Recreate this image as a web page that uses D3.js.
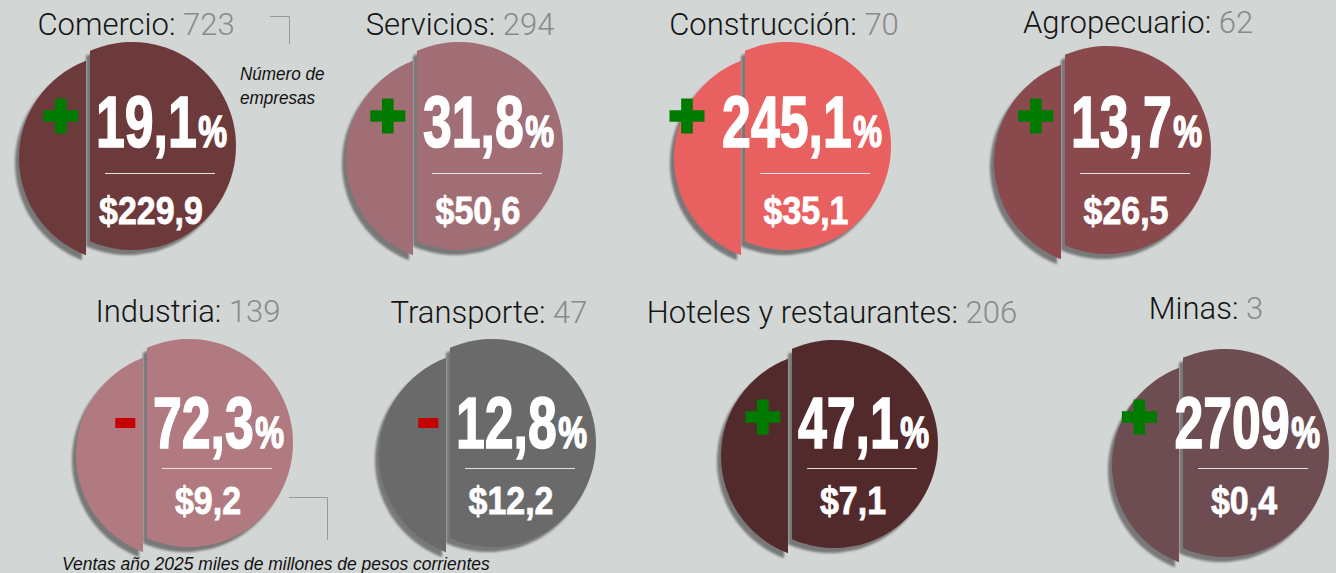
<!DOCTYPE html>
<html>
<head>
<meta charset="utf-8">
<script src="https://cdnjs.cloudflare.com/ajax/libs/d3/7.8.5/d3.min.js"></script>
<style>
  html, body { margin: 0; padding: 0; background: #d2d6d5; }
  svg { display: block; }
</style>
</head>
<body>
<svg width="1336" height="573"></svg>
<script>
// datos
var sectores = ["Comercio", "Servicios", "Construcción", "Agropecuario",
                "Industria", "Transporte", "Hoteles y restaurantes", "Minas"];
var empresas = [723, 294, 70, 62, 139, 47, 206, 3];
var variacion = [19.1, 31.8, 245.1, 13.7, -72.3, -12.8, 47.1, 2709];
var ventas = [229.9, 50.6, 35.1, 26.5, 9.2, 12.2, 7.1, 0.4];

var colores = ["#6d3a3c", "#a06e74", "#e96060", "#8a4a4d",
               "#b07a80", "#6a6a6a", "#522a2c", "#6e4d52"];

// ubicacion de cada grafico (centro de la parte derecha y titulo)
var layout = [
    {cx: 132,  cy: 146, tx: 136,  ty: 35,  row: 0},
    {cx: 459,  cy: 146, tx: 460,  ty: 35,  row: 0},
    {cx: 787,  cy: 146, tx: 784,  ty: 35,  row: 0},
    {cx: 1107, cy: 150, tx: 1138, ty: 33,  row: 0},
    {cx: 189,  cy: 443, tx: 188,  ty: 322, row: 1},
    {cx: 492,  cy: 443, tx: 489,  ty: 323, row: 1},
    {cx: 834,  cy: 444, tx: 832,  ty: 323, row: 1},
    {cx: 1225, cy: 453, tx: 1206, ty: 319, row: 1}
];
var rowText = [
    {pct: 147, line: 173, usd: 224},
    {pct: 448, line: 468, usd: 514}
];

var data = sectores.map(function(s, i) {
    return {sector: s, n: empresas[i], v: variacion[i], usd: ventas[i],
            color: colores[i], pos: layout[i]};
});

var es = d3.formatLocale({decimal: ",", thousands: ".", grouping: [3], currency: ["$", ""]});
var fmtPct = es.format(".1~f"),
    fmtUsd = es.format("$.1f");

var R = 104;
var pctScale = 0.72, usdScale = 0.87;
var svg = d3.select("svg");

var defs = svg.append("defs");
defs.append("filter").attr("id", "blur")
    .attr("x", "-10%").attr("y", "-10%").attr("width", "120%").attr("height", "120%")
  .append("feGaussianBlur").attr("stdDeviation", 1.2);

// segmento de circulo cortado por una recta vertical en xc
function segment(x0, y0, r, xc, side) {
    var dx = xc - x0,
        h = Math.sqrt(r * r - dx * dx),
        top = Math.atan2(-h, dx),
        bot = Math.atan2(h, dx),
        p = d3.path();
    if (side === "right") {
        p.moveTo(xc, y0 - h);
        p.arc(x0, y0, r, top, bot, false);
    } else {
        p.moveTo(xc, y0 + h);
        p.arc(x0, y0, r, bot, top + 2 * Math.PI, false);
    }
    p.closePath();
    return p.toString();
}

function leftPath(d) { return segment(d.pos.cx - 9, d.pos.cy + 12, R, d.pos.cx - 46, "left"); }
function rightPath(d) { return segment(d.pos.cx, d.pos.cy, R, d.pos.cx - 42, "right"); }

var g = svg.selectAll("g.sector")
    .data(data)
    .enter().append("g")
    .attr("class", "sector");

// sombras
g.append("path").attr("d", leftPath)
    .attr("transform", "translate(-4,5)")
    .attr("fill", "#787878").attr("filter", "url(#blur)");
g.append("path").attr("d", rightPath)
    .attr("transform", "translate(-4,5)")
    .attr("fill", "#787878").attr("filter", "url(#blur)");

g.append("path").attr("d", leftPath).attr("fill", function(d) { return d.color; });
g.append("path").attr("d", rightPath).attr("fill", function(d) { return d.color; });

// titulos
var title = g.append("text")
    .attr("x", function(d) { return d.pos.tx; })
    .attr("y", function(d) { return d.pos.ty; })
    .attr("text-anchor", "middle")
    .style("font-family", "Roboto, 'Liberation Sans', sans-serif")
    .style("font-weight", 300)
    .style("font-size", "31px");
title.append("tspan").attr("fill", "#141414").text(function(d) { return d.sector + ": "; });
title.append("tspan").attr("fill", "#8a8a8a").text(function(d) { return d.n; });

// porcentaje
var pct = g.append("text")
    .attr("class", "pct")
    .attr("transform", function(d) {
        return "translate(" + (d.pos.cx + 95) + "," + rowText[d.pos.row].pct + ") scale(" + pctScale + ",1)";
    })
    .attr("text-anchor", "end")
    .attr("fill", "#fff")
    .attr("stroke", "#fff").attr("stroke-width", 1.6)
    .style("font-family", "'Liberation Sans', Arial, sans-serif")
    .style("font-weight", "bold")
    .style("font-size", "72px");
pct.append("tspan").text(function(d) { return fmtPct(Math.abs(d.v)); });
pct.append("tspan").attr("dx", 2).style("font-size", "45px").text("%");

// signo
g.each(function(d) {
    var t = d3.select(this).select("text.pct").node();
    var w = t.getComputedTextLength() * pctScale;
    var left = d.pos.cx + 95 - w;
    var yc = rowText[d.pos.row].pct;
    if (d.v >= 0) {
        d3.select(this).append("path")
            .attr("d", d3.symbol(d3.symbolCross, 5 * Math.pow(35 / 3, 2))())
            .attr("transform", "translate(" + (left - 19 - 17.5) + "," + (yc - 31) + ")")
            .attr("fill", "#007a00");
    } else {
        d3.select(this).append("rect")
            .attr("x", left - 19 - 20).attr("y", yc - 30)
            .attr("width", 20).attr("height", 10)
            .attr("fill", "#c40000");
    }
});

// separador
g.append("line")
    .attr("x1", function(d) { return d.pos.cx - 27; })
    .attr("x2", function(d) { return d.pos.cx + 83; })
    .attr("y1", function(d) { return rowText[d.pos.row].line + 0.5; })
    .attr("y2", function(d) { return rowText[d.pos.row].line + 0.5; })
    .attr("stroke", "#e6e0e0").attr("stroke-width", 1);

// ventas
g.append("text")
    .attr("transform", function(d) {
        return "translate(" + (d.pos.cx + 19) + "," + rowText[d.pos.row].usd + ") scale(" + usdScale + ",1)";
    })
    .attr("text-anchor", "middle")
    .attr("fill", "#fff")
    .attr("stroke", "#fff").attr("stroke-width", 0.8)
    .style("font-family", "'Liberation Sans', Arial, sans-serif")
    .style("font-weight", "bold")
    .style("font-size", "39px")
    .text(function(d) { return fmtUsd(d.usd); });

// notas
var note = svg.append("g")
    .style("font-family", "'Liberation Sans', Arial, sans-serif")
    .style("font-style", "italic")
    .style("font-size", "19px")
    .attr("fill", "#111");
note.append("text").attr("transform", "translate(240,80) scale(0.9,1)").text("Número de");
note.append("text").attr("transform", "translate(240,104) scale(0.9,1)").text("empresas");
note.append("text").attr("transform", "translate(62,570) scale(0.92,1)")
    .text("Ventas año 2025 miles de millones de pesos corrientes");

svg.append("path")
    .attr("d", "M270,16.5H289.5V44")
    .attr("fill", "none").attr("stroke", "#999");
svg.append("path")
    .attr("d", "M289,497.5H327.5V540")
    .attr("fill", "none").attr("stroke", "#999");
</script>
</body>
</html>
